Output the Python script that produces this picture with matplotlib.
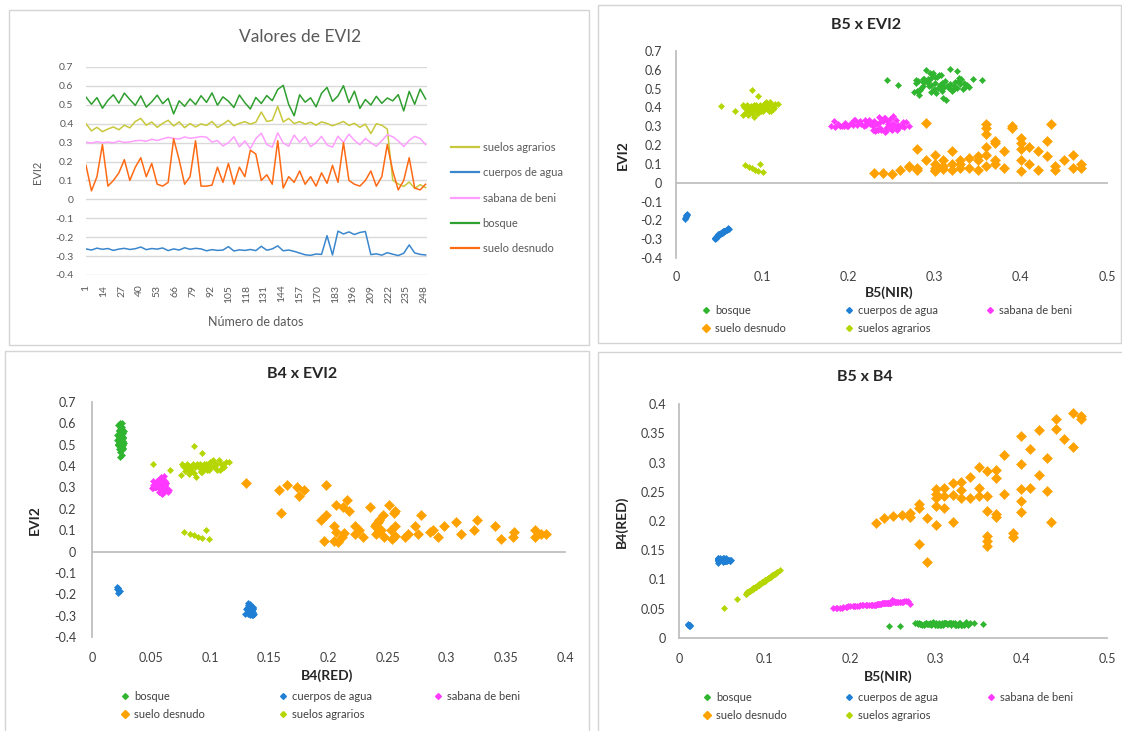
import numpy as np
import matplotlib
matplotlib.use("Agg")
import matplotlib.pyplot as plt
from matplotlib.lines import Line2D
from matplotlib.patches import Rectangle
from matplotlib.ticker import FuncFormatter

plt.rcParams['font.family'] = ['Lato', 'DejaVu Sans']

W, H = 1122, 731

# numero de dato (se toma uno de cada cuatro)
muestras = np.arange(1, 250, 4)
ticks_muestras = np.arange(1, 249, 13)

clases = ["bosque", "cuerpos de agua", "sabana de beni", "suelo desnudo", "suelos agrarios"]

# ---- EVI2 por muestra (tambien eje y de los graficos de dispersion) ----
evi2_bosque = [
    0.541, 0.503, 0.538, 0.482, 0.524, 0.553, 0.509, 0.562, 0.528, 0.497, 0.547, 0.488, 0.516, 0.551, 0.506, 0.534,
    0.452, 0.521, 0.492, 0.531, 0.501, 0.548, 0.513, 0.563, 0.498, 0.542, 0.519, 0.486, 0.552, 0.511, 0.478, 0.539,
    0.507, 0.549, 0.522, 0.581, 0.603, 0.502, 0.442, 0.553, 0.514, 0.537, 0.489, 0.561, 0.592, 0.518, 0.547, 0.601,
    0.512, 0.572, 0.481, 0.528, 0.499, 0.545, 0.508, 0.536, 0.521, 0.554, 0.468, 0.571, 0.503, 0.583, 0.531]
evi2_agua = [
    -0.262, -0.268, -0.258, -0.264, -0.260, -0.270, -0.263, -0.259, -0.265, -0.261, -0.252, -0.266, -0.260, -0.263, -0.257, -0.271,
    -0.262, -0.268, -0.256, -0.264, -0.259, -0.262, -0.272, -0.266, -0.270, -0.268, -0.250, -0.273, -0.267, -0.270, -0.265, -0.271,
    -0.248, -0.269, -0.262, -0.246, -0.272, -0.268, -0.275, -0.284, -0.293, -0.296, -0.289, -0.291, -0.192, -0.294, -0.168, -0.183,
    -0.172, -0.186, -0.175, -0.170, -0.292, -0.288, -0.295, -0.282, -0.290, -0.297, -0.285, -0.241, -0.283, -0.291, -0.294]
evi2_sabana = [
    0.302, 0.298, 0.305, 0.300, 0.303, 0.299, 0.308, 0.301, 0.304, 0.310, 0.312, 0.307, 0.318, 0.311, 0.320, 0.328,
    0.322, 0.319, 0.330, 0.323, 0.327, 0.332, 0.329, 0.303, 0.311, 0.282, 0.300, 0.331, 0.278, 0.309, 0.268, 0.321,
    0.350, 0.290, 0.276, 0.352, 0.298, 0.281, 0.340, 0.302, 0.330, 0.279, 0.300, 0.333, 0.288, 0.276, 0.334, 0.301,
    0.345, 0.312, 0.289, 0.322, 0.299, 0.281, 0.310, 0.342, 0.331, 0.309, 0.280, 0.312, 0.333, 0.322, 0.290]
evi2_desnudo = [
    0.18, 0.045, 0.12, 0.29, 0.07, 0.10, 0.14, 0.21, 0.10, 0.17, 0.22, 0.12, 0.19, 0.08, 0.07, 0.09,
    0.32, 0.21, 0.08, 0.12, 0.31, 0.07, 0.07, 0.075, 0.17, 0.09, 0.19, 0.08, 0.17, 0.12, 0.26, 0.24,
    0.10, 0.13, 0.08, 0.31, 0.06, 0.12, 0.09, 0.15, 0.08, 0.12, 0.07, 0.14, 0.085, 0.18, 0.09, 0.30,
    0.10, 0.08, 0.07, 0.10, 0.15, 0.07, 0.12, 0.29, 0.15, 0.05, 0.10, 0.22, 0.06, 0.05, 0.08]
evi2_agrarios = [
    0.400, 0.362, 0.381, 0.358, 0.372, 0.383, 0.368, 0.392, 0.378, 0.412, 0.428, 0.392, 0.409, 0.381, 0.402, 0.418,
    0.388, 0.410, 0.379, 0.401, 0.383, 0.399, 0.391, 0.412, 0.380, 0.398, 0.418, 0.389, 0.402, 0.411, 0.398, 0.408,
    0.462, 0.412, 0.418, 0.492, 0.409, 0.428, 0.401, 0.411, 0.398, 0.408, 0.392, 0.410, 0.401, 0.389, 0.400, 0.412,
    0.391, 0.402, 0.381, 0.398, 0.348, 0.400, 0.392, 0.372, 0.101, 0.082, 0.068, 0.092, 0.058, 0.078, 0.062]

# ---- B5 (NIR) ----
b5_bosque = [
    0.312, 0.284, 0.327, 0.296, 0.318, 0.288, 0.335, 0.301, 0.279, 0.322, 0.294, 0.309, 0.286, 0.331, 0.304, 0.291,
    0.310, 0.338, 0.283, 0.300, 0.326, 0.278, 0.314, 0.297, 0.333, 0.289, 0.306, 0.320, 0.292, 0.340, 0.302, 0.281,
    0.316, 0.287, 0.329, 0.298, 0.318, 0.308, 0.313, 0.345, 0.293, 0.324, 0.280, 0.303, 0.326, 0.296, 0.245, 0.290,
    0.322, 0.307, 0.276, 0.334, 0.299, 0.355, 0.311, 0.286, 0.258, 0.328, 0.282, 0.305, 0.317, 0.295, 0.309]
b5_agua = [
    0.054, 0.052, 0.056, 0.053, 0.055, 0.051, 0.054, 0.056, 0.053, 0.055, 0.058, 0.053, 0.055, 0.054, 0.056, 0.051,
    0.054, 0.052, 0.057, 0.053, 0.055, 0.054, 0.050, 0.053, 0.051, 0.052, 0.059, 0.050, 0.053, 0.051, 0.053, 0.051,
    0.060, 0.052, 0.054, 0.061, 0.050, 0.052, 0.049, 0.048, 0.046, 0.045, 0.047, 0.046, 0.011, 0.046, 0.013, 0.012,
    0.012, 0.011, 0.012, 0.013, 0.046, 0.047, 0.045, 0.049, 0.046, 0.045, 0.048, 0.060, 0.048, 0.046, 0.045]
b5_sabana = [
    0.195, 0.185, 0.205, 0.190, 0.200, 0.180, 0.210, 0.192, 0.198, 0.215, 0.188, 0.220, 0.203, 0.225, 0.196, 0.230,
    0.212, 0.235, 0.183, 0.222, 0.240, 0.208, 0.245, 0.228, 0.250, 0.238, 0.218, 0.255, 0.232, 0.247, 0.242, 0.226,
    0.236, 0.258, 0.244, 0.252, 0.265, 0.234, 0.248, 0.262, 0.214, 0.256, 0.270, 0.239, 0.249, 0.231, 0.224, 0.260,
    0.243, 0.252, 0.237, 0.267, 0.254, 0.229, 0.246, 0.241, 0.206, 0.258, 0.251, 0.233, 0.219, 0.263, 0.244]
b5_desnudo = [
    0.40, 0.25, 0.33, 0.36, 0.30, 0.32, 0.35, 0.37, 0.47, 0.32, 0.43, 0.29, 0.36, 0.28, 0.35, 0.27,
    0.29, 0.40, 0.33, 0.40, 0.435, 0.26, 0.42, 0.31, 0.42, 0.36, 0.41, 0.38, 0.38, 0.45, 0.36, 0.40,
    0.30, 0.34, 0.46, 0.36, 0.30, 0.31, 0.31, 0.46, 0.30, 0.37, 0.44, 0.43, 0.27, 0.28, 0.44, 0.39,
    0.37, 0.34, 0.28, 0.41, 0.30, 0.32, 0.35, 0.39, 0.36, 0.23, 0.33, 0.37, 0.40, 0.24, 0.47]
b5_agrarios = [
    0.092, 0.084, 0.101, 0.078, 0.095, 0.108, 0.088, 0.112, 0.081, 0.097, 0.104, 0.086, 0.052, 0.099, 0.090, 0.115,
    0.083, 0.106, 0.094, 0.079, 0.110, 0.087, 0.100, 0.093, 0.068, 0.103, 0.118, 0.085, 0.096, 0.107, 0.089, 0.113,
    0.095, 0.082, 0.102, 0.088, 0.098, 0.109, 0.080, 0.091, 0.105, 0.087, 0.099, 0.111, 0.084, 0.093, 0.106, 0.078,
    0.097, 0.102, 0.086, 0.114, 0.090, 0.100, 0.083, 0.094, 0.098, 0.085, 0.092, 0.080, 0.101, 0.088, 0.095]

# ---- B4 (RED) ----
b4_bosque = [
    0.025, 0.023, 0.026, 0.024, 0.022, 0.025, 0.027, 0.023, 0.024, 0.026, 0.022, 0.025, 0.024, 0.023, 0.026, 0.024,
    0.025, 0.022, 0.024, 0.026, 0.023, 0.025, 0.024, 0.027, 0.022, 0.025, 0.023, 0.026, 0.024, 0.025, 0.023, 0.024,
    0.026, 0.024, 0.023, 0.025, 0.025, 0.022, 0.024, 0.025, 0.026, 0.023, 0.025, 0.024, 0.022, 0.026, 0.021, 0.024,
    0.023, 0.025, 0.026, 0.024, 0.022, 0.024, 0.025, 0.023, 0.021, 0.026, 0.024, 0.023, 0.025, 0.024, 0.026]
b4_agua = [
    0.133, 0.134, 0.132, 0.135, 0.133, 0.131, 0.134, 0.133, 0.136, 0.132, 0.134, 0.133, 0.135, 0.131, 0.134, 0.133,
    0.132, 0.135, 0.134, 0.133, 0.136, 0.132, 0.134, 0.131, 0.133, 0.135, 0.132, 0.134, 0.133, 0.130, 0.134, 0.136,
    0.133, 0.135, 0.132, 0.134, 0.133, 0.131, 0.135, 0.134, 0.132, 0.136, 0.133, 0.137, 0.022, 0.135, 0.021, 0.023,
    0.022, 0.024, 0.021, 0.022, 0.134, 0.132, 0.135, 0.133, 0.129, 0.134, 0.136, 0.132, 0.133, 0.135, 0.134]
b4_sabana = [
    0.053, 0.052, 0.055, 0.052, 0.054, 0.051, 0.055, 0.053, 0.054, 0.056, 0.052, 0.056, 0.054, 0.057, 0.053, 0.057,
    0.056, 0.058, 0.052, 0.057, 0.059, 0.055, 0.060, 0.057, 0.061, 0.059, 0.056, 0.062, 0.058, 0.060, 0.059, 0.057,
    0.058, 0.062, 0.060, 0.061, 0.063, 0.058, 0.060, 0.062, 0.056, 0.061, 0.058, 0.059, 0.065, 0.058, 0.057, 0.061,
    0.059, 0.062, 0.060, 0.063, 0.061, 0.057, 0.060, 0.059, 0.055, 0.062, 0.064, 0.058, 0.056, 0.063, 0.060]
b4_desnudo = [
    0.255, 0.208, 0.239, 0.158, 0.247, 0.244, 0.242, 0.212, 0.375, 0.198, 0.251, 0.205, 0.217, 0.222, 0.293, 0.206,
    0.130, 0.235, 0.267, 0.298, 0.198, 0.211, 0.356, 0.256, 0.278, 0.286, 0.256, 0.312, 0.246, 0.341, 0.175, 0.216,
    0.226, 0.240, 0.384, 0.165, 0.254, 0.222, 0.242, 0.326, 0.240, 0.273, 0.375, 0.308, 0.213, 0.160, 0.357, 0.173,
    0.288, 0.276, 0.229, 0.323, 0.194, 0.265, 0.256, 0.179, 0.243, 0.196, 0.253, 0.206, 0.346, 0.205, 0.380]
b4_agrarios = [
    0.090, 0.082, 0.099, 0.075, 0.093, 0.106, 0.086, 0.110, 0.079, 0.095, 0.102, 0.084, 0.052, 0.097, 0.088, 0.113,
    0.081, 0.104, 0.092, 0.077, 0.108, 0.085, 0.098, 0.091, 0.066, 0.101, 0.116, 0.083, 0.094, 0.105, 0.087, 0.111,
    0.093, 0.080, 0.100, 0.086, 0.096, 0.107, 0.078, 0.089, 0.103, 0.085, 0.097, 0.109, 0.082, 0.091, 0.104, 0.076,
    0.095, 0.100, 0.084, 0.112, 0.088, 0.098, 0.081, 0.092, 0.096, 0.083, 0.090, 0.078, 0.099, 0.086, 0.093]

colores_linea = {
    "suelos agrarios": "#c8c83c", "cuerpos de agua": "#3a87cd", "sabana de beni": "#ff9eff",
    "bosque": "#2f9f2f", "suelo desnudo": "#ff6a14",
}
colores_punto = {
    "bosque": "#2fb52f", "cuerpos de agua": "#1f7fd5", "sabana de beni": "#ff38ff",
    "suelo desnudo": "#ffa200", "suelos agrarios": "#b5d600",
}

evi2 = dict(zip(clases, [evi2_bosque, evi2_agua, evi2_sabana, evi2_desnudo, evi2_agrarios]))
b5 = dict(zip(clases, [b5_bosque, b5_agua, b5_sabana, b5_desnudo, b5_agrarios]))
b4 = dict(zip(clases, [b4_bosque, b4_agua, b4_sabana, b4_desnudo, b4_agrarios]))


def fmt(v, pos):
    s = '%g' % round(v, 3)
    return '0' if s in ('0', '-0') else s


def ejes(fig, left, top, right, bottom):
    return fig.add_axes([left / W, 1 - bottom / H, (right - left) / W, (bottom - top) / H])


def texto(fig, x, y, s, **kw):
    fig.text(x / W, 1 - y / H, s, ha='center', va='center', **kw)


def marco(fig, x0, y0, x1, y1):
    fig.add_artist(Rectangle((x0 / W, 1 - y1 / H), (x1 - x0) / W, (y1 - y0) / H,
                             transform=fig.transFigure, fill=False,
                             edgecolor='#d4d4d4', lw=1.0))


def tam_marca(c):
    return 4.6 if c == "suelo desnudo" else 3.1


def grafico_lineas(fig):
    ax = ejes(fig, 86, 67, 427, 275)
    orden = ["suelos agrarios", "cuerpos de agua", "sabana de beni", "bosque", "suelo desnudo"]
    for c in orden:
        ax.plot(muestras, evi2[c], color=colores_linea[c], lw=1.1, label=c)
    ax.set_xlim(1, 250)
    ax.set_ylim(-0.4, 0.7)
    ax.set_yticks(np.round(np.arange(-0.4, 0.71, 0.1), 1))
    ax.yaxis.set_major_formatter(FuncFormatter(fmt))
    ax.set_xticks(ticks_muestras)
    ax.set_xticklabels([str(t) for t in ticks_muestras], rotation=90)
    ax.grid(axis='y', color='#d9d9d9', lw=1.0)
    ax.set_axisbelow(True)
    for s in ax.spines.values():
        s.set_visible(False)
    ax.tick_params(axis='y', length=0, labelsize=7.5, colors='#595959', pad=9)
    ax.tick_params(axis='x', length=0, labelsize=7.5, colors='#595959', pad=7)

    texto(fig, 300, 37, "Valores de EVI2", fontsize=12.5, color='#595959')
    texto(fig, 37, 172, "EVI2", fontsize=8, color='#595959', rotation=90)
    texto(fig, 256, 322, "Número de datos", fontsize=9, color='#595959')

    handles = [Line2D([], [], color=colores_linea[c], lw=1.6) for c in orden]
    fig.legend(handles, orden, loc='center left', bbox_to_anchor=(451 / W, 1 - 198 / H),
               frameon=False, fontsize=8, labelcolor='#595959', borderpad=0,
               borderaxespad=0, handlelength=2.5, handletextpad=0.35, labelspacing=1.3)


def leyenda(fig, cols_x, y_top):
    columnas = [["bosque", "suelo desnudo"], ["cuerpos de agua", "suelos agrarios"], ["sabana de beni"]]
    for nombres, x in zip(columnas, cols_x):
        hs = [Line2D([], [], ls='none', marker='D', ms=tam_marca(c) * 0.95,
                     color=colores_punto[c], mec=colores_punto[c]) for c in nombres]
        fig.legend(hs, nombres, loc='upper left',
                   bbox_to_anchor=((x - 5) / W, 1 - y_top / H),
                   frameon=False, fontsize=8, labelcolor='#404040', borderpad=0,
                   borderaxespad=0, handlelength=0.8, handletextpad=0.35, labelspacing=0.62)


def grafico_dispersion(fig, rect, datos_x, datos_y, xlim, ylim, xpaso, ypaso,
                       titulo, xlabel, ylabel, pos_t, pos_x, pos_y, pads, cols_x, y_ley):
    ax = ejes(fig, *rect)
    for c in clases:
        ax.plot(datos_x[c], datos_y[c], ls='none', marker='D', ms=tam_marca(c),
                color=colores_punto[c], mec=colores_punto[c], mew=0.4, clip_on=False)
    ax.set_xlim(*xlim)
    ax.set_ylim(*ylim)
    ax.set_xticks(np.round(np.arange(xlim[0], xlim[1] + 1e-9, xpaso), 3))
    ax.set_yticks(np.round(np.arange(ylim[0], ylim[1] + 1e-9, ypaso), 3))
    ax.xaxis.set_major_formatter(FuncFormatter(fmt))
    ax.yaxis.set_major_formatter(FuncFormatter(fmt))
    for lado in ['top', 'right', 'bottom']:
        ax.spines[lado].set_visible(False)
    ax.spines['left'].set_color('#bfbfbf')
    ax.spines['left'].set_linewidth(1.3)
    ax.axhline(0, color='#bfbfbf', lw=1.3, zorder=0.5, clip_on=False)
    ax.tick_params(axis='x', length=0, labelsize=9, colors='#404040', pad=pads[0])
    ax.tick_params(axis='y', length=0, labelsize=9, colors='#404040', pad=pads[1])

    texto(fig, pos_t[0], pos_t[1], titulo, fontsize=11.5, fontweight='bold', color='#262626')
    texto(fig, pos_x[0], pos_x[1], xlabel, fontsize=10, fontweight='bold', color='#262626')
    texto(fig, pos_y[0], pos_y[1], ylabel, fontsize=10, fontweight='bold', color='#262626',
          rotation=90)
    leyenda(fig, cols_x, y_ley)


def main():
    fig = plt.figure(figsize=(W / 100, H / 100), dpi=100)
    fig.patch.set_facecolor('white')

    marco(fig, 9, 10, 589, 345)
    marco(fig, 598, 5, 1121, 343)
    marco(fig, 5, 351, 589, 735)
    marco(fig, 598, 352, 1126, 735)

    grafico_lineas(fig)

    grafico_dispersion(fig, (676, 51, 1107, 258), b5, evi2, (0, 0.5), (-0.4, 0.7), 0.1, 0.1,
                       "B5 x EVI2", "B5(NIR)", "EVI2", (866, 25), (889, 293), (623, 155),
                       (9, 10), (707, 850, 991), 305)
    grafico_dispersion(fig, (92, 402, 565, 637), b4, evi2, (0, 0.4), (-0.4, 0.7), 0.05, 0.1,
                       "B4 x EVI2", "B4(RED)", "EVI2", (302, 374), (327, 676), (35, 520),
                       (11, 11.5), (126, 284, 439), 691)
    grafico_dispersion(fig, (679, 404, 1107, 638), b5, b4, (0, 0.5), (0, 0.4), 0.1, 0.05,
                       "B5 x B4", "B5(NIR)", "B4(RED)", (865, 377), (888, 677), (622, 522),
                       (11, 9.5), (708, 850, 992), 692)

    fig.savefig("out.png", dpi=100)


if __name__ == "__main__":
    main()
